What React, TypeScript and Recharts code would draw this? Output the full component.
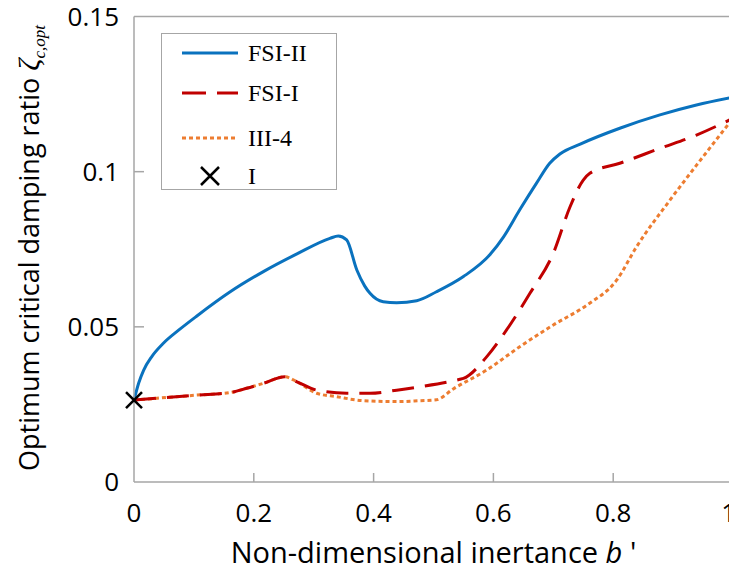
import React from 'react';
import { ComposedChart, Line, Scatter, XAxis, YAxis, ReferenceLine, Legend, Label } from 'recharts';

// ---- data ----
const xTicks = [0, 0.2, 0.4, 0.6, 0.8, 1];
const xTickLabels = ['0', '0.2', '0.4', '0.6', '0.8', '1'];
const yTicks = [0, 0.05, 0.1, 0.15];
const yTickLabels = ['0', '0.05', '0.1', '0.15'];

const fsi2X = [0, 0.008, 0.016, 0.03, 0.049, 0.075, 0.105, 0.16, 0.216, 0.272, 0.327, 0.341, 0.355, 0.372, 0.385, 0.394, 0.416, 0.4385, 0.472, 0.505, 0.55, 0.594, 0.617, 0.644, 0.672, 0.694, 0.711, 0.745, 0.811, 0.878, 0.939, 1.0];
const fsi2Y = [0.0264, 0.032, 0.036, 0.0405, 0.0447, 0.049, 0.0535, 0.0612, 0.0678, 0.0735, 0.0785, 0.0793, 0.078, 0.0683, 0.0632, 0.0608, 0.0581, 0.0578, 0.0584, 0.0613, 0.0662, 0.0732, 0.079, 0.0877, 0.0963, 0.1027, 0.1057, 0.1089, 0.114, 0.1183, 0.1215, 0.124];

const fsi1X = [0, 0.105, 0.16, 0.188, 0.216, 0.252, 0.272, 0.305, 0.355, 0.394, 0.4385, 0.4775, 0.544, 0.55, 0.589, 0.622, 0.661, 0.7, 0.728, 0.75, 0.761, 0.811, 0.878, 0.939, 1.0];
const fsi1Y = [0.0264, 0.028, 0.0288, 0.0302, 0.0318, 0.0339, 0.0323, 0.0296, 0.0286, 0.0286, 0.0296, 0.0307, 0.0331, 0.0334, 0.0404, 0.049, 0.0608, 0.0737, 0.0887, 0.0973, 0.0995, 0.1027, 0.1075, 0.1118, 0.1172];

const iii4X = [0, 0.105, 0.16, 0.188, 0.216, 0.252, 0.272, 0.305, 0.338, 0.383, 0.4385, 0.4775, 0.505, 0.533, 0.589, 0.644, 0.7, 0.756, 0.806, 0.839, 0.895, 0.95, 1.0];
const iii4Y = [0.0264, 0.028, 0.0288, 0.0302, 0.0318, 0.0339, 0.0323, 0.0286, 0.0275, 0.0262, 0.0259, 0.0262, 0.0265, 0.03, 0.0361, 0.0436, 0.0506, 0.057, 0.0651, 0.0758, 0.0909, 0.1048, 0.1172];

const pointIX = [0];
const pointIY = [0.0264];

const seriesNames = ['FSI-II', 'FSI-I', 'III-4', 'I'];

const zip = (xs: number[], ys: number[]) => xs.map((x, i) => ({ x, y: ys[i] }));
const fsi2Data = zip(fsi2X, fsi2Y);
const fsi1Data = zip(fsi1X, fsi1Y);
const iii4Data = zip(iii4X, iii4Y);
const pointIData = zip(pointIX, pointIY);

// ---- styles ----
const FONT = "'Open Sans', 'Noto Sans', sans-serif";
const SERIF = "'Liberation Serif', 'DejaVu Serif', serif";
const FRAME = '#A6A6A6';
const BLUE = '#0A72BE';
const RED = '#C00000';
const ORANGE = '#ED7D31';
const W = 737;
const H = 578;

const XTick = (props: any) => {
  const { x, y, payload } = props;
  const v = payload.value;
  const idx = xTicks.indexOf(v);
  const interior = v > 0 && v < 1;
  const last = v === 1;
  return (
    <g>
      {interior && <line x1={x} x2={x} y1={y} y2={y - 9} stroke={FRAME} strokeWidth={1.5} />}
      <text
        x={last ? W - 1 : x}
        y={y + 40}
        textAnchor={last ? 'end' : 'middle'}
        fontSize={26}
        fontFamily={FONT}
        fill="#000"
      >
        {xTickLabels[idx]}
      </text>
    </g>
  );
};

const YTick = (props: any) => {
  const { x, y, payload } = props;
  const v = payload.value;
  const idx = yTicks.indexOf(v);
  const interior = v > 0 && v < 0.15;
  return (
    <g>
      {interior && <line x1={x} x2={x + 10} y1={y} y2={y} stroke={FRAME} strokeWidth={1.5} />}
      <text x={x - 15} y={y + 9} textAnchor="end" fontSize={26} fontFamily={FONT} fill="#000">
        {yTickLabels[idx]}
      </text>
    </g>
  );
};

const XLabel = (props: any) => {
  const vb = props.viewBox || {};
  const cx = vb.x + vb.width / 2;
  return (
    <text x={cx} y={563} textAnchor="middle" fontSize={29} fontFamily={FONT} fill="#000">
      Non-dimensional inertance <tspan fontStyle="italic">b</tspan> '
    </text>
  );
};

const YLabel = () => {
  const cy = 248;
  const bx = 39;
  return (
    <text
      x={bx}
      y={cy}
      transform={`rotate(-90, ${bx}, ${cy})`}
      textAnchor="middle"
      fontSize={27}
      fontFamily={FONT}
      fill="#000"
    >
      Optimum critical damping ratio{' '}
      <tspan fontFamily={SERIF} fontStyle="italic" fontSize={30}>ζ</tspan>
      <tspan fontFamily={SERIF} fontStyle="italic" fontSize={17} dy={6}>c,opt</tspan>
    </text>
  );
};

const XMark = (props: any) => {
  const { cx, cy, s = 8 } = props;
  return (
    <path
      d={`M${cx - s},${cy - s}L${cx + s},${cy + s}M${cx + s},${cy - s}L${cx - s},${cy + s}`}
      stroke="#000"
      strokeWidth={2.5}
      fill="none"
    />
  );
};

const rowY = [19, 59, 104, 142];

const LegendBox = () => (
  <div
    style={{
      width: 176,
      height: 157,
      border: `1.5px solid ${FRAME}`,
      background: '#fff',
      boxSizing: 'border-box',
    }}
  >
    <svg width={173} height={154} style={{ display: 'block' }}>
      <line x1={20} x2={76} y1={rowY[0]} y2={rowY[0]} stroke={BLUE} strokeWidth={3} />
      <line x1={20} x2={76} y1={rowY[1]} y2={rowY[1]} stroke={RED} strokeWidth={3} strokeDasharray="24 11" />
      <line x1={20} x2={76} y1={rowY[2]} y2={rowY[2]} stroke={ORANGE} strokeWidth={3} strokeDasharray="4 3" />
      <XMark cx={48} cy={rowY[3]} s={9} />
      {seriesNames.map((n, i) => (
        <text key={n} x={86} y={rowY[i] + 8} fontSize={24} fontFamily={SERIF} fill="#000">
          {n}
        </text>
      ))}
    </svg>
  </div>
);

export default function App() {
  return (
    <div style={{ margin: -8, width: W, height: H }}>
      <ComposedChart
        width={W}
        height={H}
        margin={{ top: 16.5, right: 4, left: 0, bottom: 0 }}
      >
        <XAxis
          dataKey="x"
          type="number"
          domain={[0, 1]}
          ticks={xTicks}
          tick={<XTick />}
          tickLine={false}
          tickSize={0}
          tickMargin={0}
          axisLine={{ stroke: FRAME, strokeWidth: 1.5 }}
          height={96}
          interval={0}
        >
          <Label content={<XLabel />} />
        </XAxis>
        <YAxis
          type="number"
          domain={[0, 0.15]}
          ticks={yTicks}
          tick={<YTick />}
          tickLine={false}
          tickSize={0}
          tickMargin={0}
          axisLine={{ stroke: FRAME, strokeWidth: 1.5 }}
          width={134}
          interval={0}
        >
          <Label content={<YLabel />} />
        </YAxis>
        <ReferenceLine y={0.15} stroke={FRAME} strokeWidth={1.5} />
        <ReferenceLine x={1} stroke={FRAME} strokeWidth={1.5} />
        <Legend
          layout="vertical"
          align="center"
          verticalAlign="middle"
          content={<LegendBox />}
          wrapperStyle={{ position: 'absolute', top: 33, left: 161, width: 176, height: 157 }}
        />
        <Line
          data={iii4Data}
          dataKey="y"
          type="monotone"
          stroke={ORANGE}
          strokeWidth={3}
          strokeDasharray="4 3"
          dot={false}
          activeDot={false}
          isAnimationActive={false}
          name="III-4"
        />
        <Line
          data={fsi1Data}
          dataKey="y"
          type="monotone"
          stroke={RED}
          strokeWidth={3}
          strokeDasharray="22 11"
          dot={false}
          activeDot={false}
          isAnimationActive={false}
          name="FSI-I"
        />
        <Line
          data={fsi2Data}
          dataKey="y"
          type="monotone"
          stroke={BLUE}
          strokeWidth={3}
          dot={false}
          activeDot={false}
          isAnimationActive={false}
          name="FSI-II"
        />
        <Scatter
          data={pointIData}
          dataKey="y"
          shape={<XMark />}
          isAnimationActive={false}
          name="I"
        />
      </ComposedChart>
    </div>
  );
}
